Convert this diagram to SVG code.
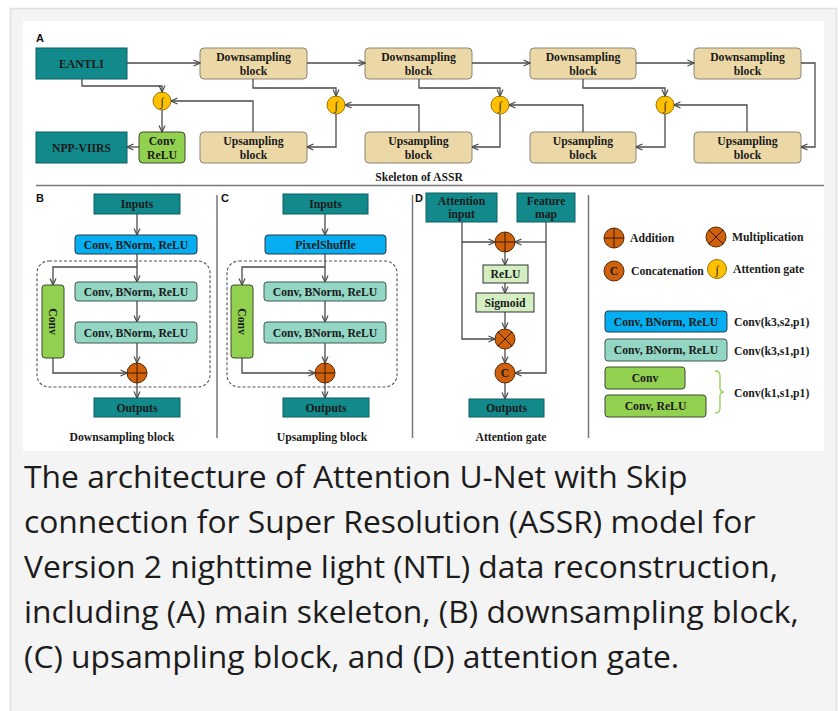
<svg xmlns="http://www.w3.org/2000/svg" width="838" height="711" viewBox="0 0 838 711">
  <defs>
    <marker id="arr" viewBox="0 0 8 8" refX="7.5" refY="4" markerWidth="8" markerHeight="8" markerUnits="userSpaceOnUse" orient="auto">
      <path d="M1,1 L7.5,4 L1,7" fill="none" stroke="#4a4a4a" stroke-width="1.2"/>
    </marker>
  </defs>
  <style>
    .lbl { font-family: "Liberation Serif", "Times New Roman", serif; font-weight: bold; font-size: 11.7px; fill: #1a1a1a; }
    .mid { text-anchor: middle; }
    .pan { font-family: "Liberation Sans", Arial, sans-serif; font-weight: bold; font-size: 11px; fill: #111; }
    .teal { fill: #128a8c; stroke: #0b5e60; stroke-width: 1; }
    .tan { fill: #ecd8a6; stroke: #8c8576; stroke-width: 1; }
    .blue { fill: #05aef0; stroke: #2a3a44; stroke-width: 1; }
    .mint { fill: #93d6c4; stroke: #3f5a52; stroke-width: 1; }
    .green { fill: #92d050; stroke: #3c4a30; stroke-width: 1; }
    .pale { fill: #d3efc2; stroke: #333; stroke-width: 1; }
    .op { fill: #cf600c; stroke: #5a2a05; stroke-width: 1; }
    .gate { fill: #ffc000; stroke: #9a7400; stroke-width: 1; }
    .sym { stroke: #3a1a03; stroke-width: 1; fill: none; }
    .wire { fill: none; stroke: #4a4a4a; stroke-width: 1.3; marker-end: url(#arr); }
    .rule { stroke: #777; stroke-width: 1.5; }
    .cap { font-family: "Open Sans", "Noto Sans", sans-serif; font-size: 31.8px; fill: #1c1c1c; }
  </style>

  <!-- page panel -->
  <rect x="0" y="0" width="838" height="711" fill="#ffffff"/>
  <rect x="10.5" y="8.5" width="826" height="710" fill="#f4f4f4" stroke="#e0e0e0" stroke-width="1.5"/>
  <rect x="23" y="21" width="801" height="430" fill="#ffffff"/>

  <!-- section A: skeleton -->
  <text class="pan" x="36" y="42">A</text>
  <g id="eantli"><rect class="teal" x="36" y="48" width="91" height="31"/><text class="lbl mid" x="81.5" y="67.5">EANTLI</text></g>
  <g id="down1"><rect class="tan" x="200" y="48" width="107" height="31" rx="4"/><text class="lbl mid" x="253.5" y="60.5">Downsampling</text><text class="lbl mid" x="253.5" y="75">block</text></g>
  <g id="down2"><rect class="tan" x="365" y="48" width="107" height="31" rx="4"/><text class="lbl mid" x="418.5" y="60.5">Downsampling</text><text class="lbl mid" x="418.5" y="75">block</text></g>
  <g id="down3"><rect class="tan" x="530" y="48" width="106" height="31" rx="4"/><text class="lbl mid" x="583" y="60.5">Downsampling</text><text class="lbl mid" x="583" y="75">block</text></g>
  <g id="down4"><rect class="tan" x="694" y="48" width="107" height="31" rx="4"/><text class="lbl mid" x="747.5" y="60.5">Downsampling</text><text class="lbl mid" x="747.5" y="75">block</text></g>
  <g id="npp"><rect class="teal" x="36" y="132" width="91" height="31"/><text class="lbl mid" x="81.5" y="151.5">NPP-VIIRS</text></g>
  <g id="convrelu"><rect class="green" x="139" y="132" width="46" height="31" rx="4"/><text class="lbl mid" x="162" y="144.5">Conv</text><text class="lbl mid" x="162" y="159">ReLU</text></g>
  <g id="up1"><rect class="tan" x="200" y="132" width="107" height="31" rx="4"/><text class="lbl mid" x="253.5" y="144.5">Upsampling</text><text class="lbl mid" x="253.5" y="159">block</text></g>
  <g id="up2"><rect class="tan" x="365" y="132" width="107" height="31" rx="4"/><text class="lbl mid" x="418.5" y="144.5">Upsampling</text><text class="lbl mid" x="418.5" y="159">block</text></g>
  <g id="up3"><rect class="tan" x="530" y="132" width="106" height="31" rx="4"/><text class="lbl mid" x="583" y="144.5">Upsampling</text><text class="lbl mid" x="583" y="159">block</text></g>
  <g id="up4"><rect class="tan" x="694" y="132" width="107" height="31" rx="4"/><text class="lbl mid" x="747.5" y="144.5">Upsampling</text><text class="lbl mid" x="747.5" y="159">block</text></g>
  <g id="gate1"><circle class="gate" cx="162" cy="101" r="9"/><text class="lbl mid" x="162" y="105.5" font-size="11">∫</text></g>
  <g id="gate2"><circle class="gate" cx="336" cy="105" r="9"/><text class="lbl mid" x="336" y="109.5" font-size="11">∫</text></g>
  <g id="gate3"><circle class="gate" cx="500" cy="105" r="9"/><text class="lbl mid" x="500" y="109.5" font-size="11">∫</text></g>
  <g id="gate4"><circle class="gate" cx="665" cy="105" r="9"/><text class="lbl mid" x="665" y="109.5" font-size="11">∫</text></g>
  <text class="lbl mid" x="419" y="181">Skeleton of ASSR</text>
  <line class="rule" x1="36" y1="185.5" x2="824" y2="185.5"/>

  <g id="connectors">
    <!-- skeleton -->
    <path class="wire" d="M127,63 H200"/>
    <path class="wire" d="M307,63 H365"/>
    <path class="wire" d="M472,63 H530"/>
    <path class="wire" d="M636,63 H694"/>
    <path class="wire" d="M801,63 H815 V147 H801"/>
    <path class="wire" d="M82,79 V86 H162 V92"/>
    <path class="wire" d="M253,79 V88 H336 V96"/>
    <path class="wire" d="M419,79 V88 H500 V96"/>
    <path class="wire" d="M583,79 V88 H665 V96"/>
    <path class="wire" d="M253,132 V101 H171"/>
    <path class="wire" d="M419,132 V105 H345"/>
    <path class="wire" d="M583,132 V105 H509"/>
    <path class="wire" d="M747,132 V105 H674"/>
    <path class="wire" d="M162,110 V132"/>
    <path class="wire" d="M336,114 V147 H307"/>
    <path class="wire" d="M500,114 V147 H472"/>
    <path class="wire" d="M665,114 V147 H636"/>
    <path class="wire" d="M139,147 H127"/>
    <!-- downsampling block -->
    <path class="wire" d="M137,214 V235"/>
    <path class="wire" d="M137,254 V282"/>
    <path class="wire" d="M137,267 H53 V285"/>
    <path class="wire" d="M137,301 V322"/>
    <path class="wire" d="M137,343 V363"/>
    <path class="wire" d="M53,358 V373 H127"/>
    <path class="wire" d="M137,383 V398"/>
    <!-- upsampling block -->
    <path class="wire" d="M325,214 V235"/>
    <path class="wire" d="M325,254 V282"/>
    <path class="wire" d="M325,267 H242 V285"/>
    <path class="wire" d="M325,301 V322"/>
    <path class="wire" d="M325,343 V363"/>
    <path class="wire" d="M242,358 V373 H315"/>
    <path class="wire" d="M325,383 V398"/>
    <!-- attention gate -->
    <path class="wire" d="M462,222 V339 H495"/>
    <path class="wire" d="M462,242 H495"/>
    <path class="wire" d="M546,222 V373 H515"/>
    <path class="wire" d="M546,242 H515"/>
    <path class="wire" d="M505,252 V265"/>
    <path class="wire" d="M505,283 V293"/>
    <path class="wire" d="M505,312 V329"/>
    <path class="wire" d="M505,349 V363"/>
    <path class="wire" d="M505,383 V399"/>
  </g>

  <!-- section B: downsampling block -->
  <text class="pan" x="36" y="202">B</text>
  <rect x="37" y="261" width="173" height="126" rx="12" fill="none" stroke="#555" stroke-width="1.1" stroke-dasharray="3,2"/>
  <g id="b-inputs"><rect class="teal" x="94" y="194" width="86" height="20"/><text class="lbl mid" x="137" y="208">Inputs</text></g>
  <g id="b-cbr"><rect class="blue" x="75" y="235" width="122" height="19" rx="3"/><text class="lbl mid" x="136" y="248.5">Conv, BNorm, ReLU</text></g>
  <g id="b-conv"><rect class="green" x="42" y="285" width="22" height="73" rx="3"/><text class="lbl mid" transform="translate(53,321.5) rotate(90)" x="0" y="4">Conv</text></g>
  <g id="b-cbr1"><rect class="mint" x="75" y="282" width="122" height="19" rx="3"/><text class="lbl mid" x="136" y="295.5">Conv, BNorm, ReLU</text></g>
  <g id="b-cbr2"><rect class="mint" x="75" y="322" width="122" height="21" rx="3"/><text class="lbl mid" x="136" y="336.5">Conv, BNorm, ReLU</text></g>
  <g id="b-add"><circle class="op" cx="137" cy="373" r="10"/><path class="sym" d="M127,373 H147 M137,363 V383"/></g>
  <g id="b-outputs"><rect class="teal" x="94" y="398" width="86" height="19"/><text class="lbl mid" x="137" y="411.5">Outputs</text></g>
  <text class="lbl mid" x="122" y="441">Downsampling block</text>
  <line class="rule" x1="217" y1="195" x2="217" y2="438" stroke-width="1.2"/>

  <!-- section C: upsampling block -->
  <text class="pan" x="221" y="202">C</text>
  <rect x="227" y="261" width="170" height="126" rx="12" fill="none" stroke="#555" stroke-width="1.1" stroke-dasharray="3,2"/>
  <g id="c-inputs"><rect class="teal" x="283" y="194" width="85" height="20"/><text class="lbl mid" x="325.5" y="208">Inputs</text></g>
  <g id="c-shuffle"><rect class="blue" x="265" y="235" width="121" height="19" rx="3"/><text class="lbl mid" x="325.5" y="248.5">PixelShuffle</text></g>
  <g id="c-conv"><rect class="green" x="231" y="285" width="22" height="73" rx="3"/><text class="lbl mid" transform="translate(242,321.5) rotate(90)" x="0" y="4">Conv</text></g>
  <g id="c-cbr1"><rect class="mint" x="264" y="282" width="122" height="19" rx="3"/><text class="lbl mid" x="325" y="295.5">Conv, BNorm, ReLU</text></g>
  <g id="c-cbr2"><rect class="mint" x="264" y="322" width="122" height="21" rx="3"/><text class="lbl mid" x="325" y="336.5">Conv, BNorm, ReLU</text></g>
  <g id="c-add"><circle class="op" cx="325" cy="373" r="10"/><path class="sym" d="M315,373 H335 M325,363 V383"/></g>
  <g id="c-outputs"><rect class="teal" x="283" y="398" width="86" height="19"/><text class="lbl mid" x="326" y="411.5">Outputs</text></g>
  <text class="lbl mid" x="322" y="441">Upsampling block</text>
  <line class="rule" x1="412.5" y1="195" x2="412.5" y2="438" stroke-width="1.2"/>

  <!-- section D: attention gate -->
  <text class="pan" x="415" y="202">D</text>
  <g id="d-att"><rect class="teal" x="426" y="193" width="71" height="29"/><text class="lbl mid" x="461.5" y="204.5">Attention</text><text class="lbl mid" x="461.5" y="218">input</text></g>
  <g id="d-feat"><rect class="teal" x="517" y="193" width="58" height="29"/><text class="lbl mid" x="546" y="204.5">Feature</text><text class="lbl mid" x="546" y="218">map</text></g>
  <g id="d-add"><circle class="op" cx="505" cy="242" r="10"/><path class="sym" d="M495,242 H515 M505,232 V252"/></g>
  <g id="d-relu"><rect class="pale" x="483" y="265" width="45" height="18"/><text class="lbl mid" x="505.5" y="278">ReLU</text></g>
  <g id="d-sig"><rect class="pale" x="476" y="293" width="58" height="19"/><text class="lbl mid" x="505" y="306.5">Sigmoid</text></g>
  <g id="d-mul"><circle class="op" cx="505" cy="339" r="10"/><path class="sym" d="M497.9,331.9 L512.1,346.1 M512.1,331.9 L497.9,346.1"/></g>
  <g id="d-cat"><circle class="op" cx="505" cy="373" r="10"/><text class="lbl mid" x="505" y="377" font-size="10.5">C</text></g>
  <g id="d-outputs"><rect class="teal" x="469" y="399" width="75" height="18"/><text class="lbl mid" x="506.5" y="412">Outputs</text></g>
  <text class="lbl mid" x="511" y="441">Attention gate</text>
  <line class="rule" x1="588.5" y1="195" x2="588.5" y2="438" stroke-width="1.2"/>

  <!-- legend -->
  <g id="key-add"><circle class="op" cx="614" cy="238" r="10"/><path class="sym" d="M604,238 H624 M614,228 V248"/><text class="lbl" x="630" y="242">Addition</text></g>
  <g id="key-mul"><circle class="op" cx="716" cy="237" r="10"/><path class="sym" d="M708.9,229.9 L723.1,244.1 M723.1,229.9 L708.9,244.1"/><text class="lbl" x="732" y="241">Multiplication</text></g>
  <g id="key-cat"><circle class="op" cx="614" cy="271" r="10"/><text class="lbl mid" x="614" y="275" font-size="10.5">C</text><text class="lbl" x="631" y="275">Concatenation</text></g>
  <g id="key-gate"><circle class="gate" cx="717" cy="269" r="9.5"/><text class="lbl mid" x="717" y="273.5" font-size="11">∫</text><text class="lbl" x="733" y="273">Attention gate</text></g>
  <g id="key-s2"><rect class="blue" x="605" y="311" width="122" height="21" rx="3"/><text class="lbl mid" x="666" y="325.5">Conv, BNorm, ReLU</text><text class="lbl" x="734" y="326">Conv(k3,s2,p1)</text></g>
  <g id="key-s1"><rect class="mint" x="605" y="339" width="122" height="22" rx="3"/><text class="lbl mid" x="666" y="354">Conv, BNorm, ReLU</text><text class="lbl" x="734" y="355">Conv(k3,s1,p1)</text></g>
  <g id="key-conv"><rect class="green" x="605" y="367" width="80" height="22" rx="3"/><text class="lbl mid" x="645" y="382">Conv</text></g>
  <g id="key-convrelu"><rect class="green" x="605" y="395" width="101" height="22" rx="3"/><text class="lbl mid" x="655.5" y="410">Conv, ReLU</text></g>
  <g id="key-k1"><path d="M715,371 Q720,371 720,376 V388 Q720,392 724,392 Q720,392 720,396 V408 Q720,413 715,413" fill="none" stroke="#92d050" stroke-width="1.3"/><text class="lbl" x="734" y="397">Conv(k1,s1,p1)</text></g>

  <!-- caption -->
  <text class="cap" x="24" y="488">The architecture of Attention U-Net with Skip</text>
  <text class="cap" x="24" y="533">connection for Super Resolution (ASSR) model for</text>
  <text class="cap" x="24" y="578">Version 2 nighttime light (NTL) data reconstruction,</text>
  <text class="cap" x="24" y="623">including (A) main skeleton, (B) downsampling block,</text>
  <text class="cap" x="24" y="668">(C) upsampling block, and (D) attention gate.</text>
</svg>
